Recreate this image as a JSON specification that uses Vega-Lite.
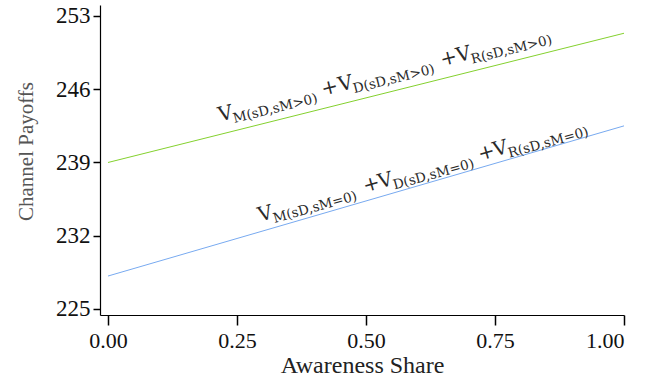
{
  "$schema": "https://vega.github.io/schema/vega-lite/v6.json",
  "width": 524,
  "height": 310,
  "autosize": {"type": "none"},
  "padding": {"left": 100, "top": 5, "right": 23, "bottom": 62},
  "background": "white",
  "config": {
    "view": {"stroke": null},
    "axis": {"grid": false, "domainColor": "#000", "tickColor": "#000", "labelColor": "#111", "labelFont": "Liberation Serif", "titleFont": "Liberation Serif", "titleFontWeight": "normal"}
  },
  "datasets": {
    "lines": [
      {"series": "pos", "share": 0, "payoff": 239.0},
      {"series": "pos", "share": 1, "payoff": 251.35},
      {"series": "zero", "share": 0, "payoff": 228.15},
      {"series": "zero", "share": 1, "payoff": 242.5}
    ],
    "labels": [
      {"series": "pos", "kind": "main", "share": 0.2171, "payoff": 242.918, "txt": "V"},
      {"series": "pos", "kind": "sub", "share": 0.2481, "payoff": 243.300, "txt": "M(sD,sM>0)"},
      {"series": "pos", "kind": "main", "share": 0.4167, "payoff": 245.374, "txt": "+"},
      {"series": "pos", "kind": "main", "share": 0.4496, "payoff": 245.775, "txt": "V"},
      {"series": "pos", "kind": "sub", "share": 0.4806, "payoff": 246.157, "txt": "D(sD,sM>0)"},
      {"series": "pos", "kind": "main", "share": 0.6473, "payoff": 248.203, "txt": "+"},
      {"series": "pos", "kind": "main", "share": 0.6783, "payoff": 248.585, "txt": "V"},
      {"series": "pos", "kind": "sub", "share": 0.7093, "payoff": 248.967, "txt": "R(sD,sM>0)"},
      {"series": "zero", "kind": "main", "share": 0.2946, "payoff": 233.342, "txt": "V"},
      {"series": "zero", "kind": "sub", "share": 0.3256, "payoff": 233.763, "txt": "M(sD,sM=0)"},
      {"series": "zero", "kind": "main", "share": 0.4981, "payoff": 236.123, "txt": "+"},
      {"series": "zero", "kind": "main", "share": 0.5271, "payoff": 236.524, "txt": "V"},
      {"series": "zero", "kind": "sub", "share": 0.5581, "payoff": 236.945, "txt": "D(sD,sM=0)"},
      {"series": "zero", "kind": "main", "share": 0.7209, "payoff": 239.171, "txt": "+"},
      {"series": "zero", "kind": "main", "share": 0.75, "payoff": 239.573, "txt": "V"},
      {"series": "zero", "kind": "sub", "share": 0.7810, "payoff": 239.993, "txt": "R(sD,sM=0)"}
    ]
  },
  "encoding": {
    "x": {
      "field": "share", "type": "quantitative",
      "scale": {"domain": [-0.0155, 1.0], "nice": false, "zero": false},
      "axis": {
        "values": [0, 0.25, 0.5, 0.75, 1], "format": ".2f",
        "tickSize": 10, "tickWidth": 1.5, "domainWidth": 1.2,
        "labelFontSize": 22, "labelPadding": 5,
        "title": "Awareness Share", "titleFontSize": 24, "titleColor": "#222",
        "titleBaseline": "alphabetic", "titleY": 57
      }
    },
    "y": {
      "field": "payoff", "type": "quantitative",
      "scale": {"domain": [224.426, 254.051], "nice": false, "zero": false},
      "axis": {
        "values": [225, 232, 239, 246, 253],
        "tickSize": 7, "tickWidth": 1.5, "domainWidth": 1.2,
        "labelFontSize": 23, "labelPadding": 3,
        "title": "Channel Payoffs", "titleFontSize": 21, "titleColor": "#555",
        "titleX": -74, "titleY": 146, "titleAngle": -90, "titleAlign": "center", "titleBaseline": "middle"
      }
    }
  },
  "layer": [
    {
      "data": {"name": "lines"},
      "mark": {"type": "line", "strokeWidth": 1},
      "encoding": {
        "color": {"field": "series", "type": "nominal", "scale": {"domain": ["pos", "zero"], "range": ["#84d12e", "#78aaf0"]}, "legend": null}
      }
    },
    {
      "data": {"name": "labels"},
      "transform": [{"filter": "datum.series === 'pos' && datum.kind === 'main'"}],
      "mark": {"type": "text", "align": "left", "baseline": "alphabetic", "angle": 346, "font": "DejaVu Serif", "fontSize": 20, "color": "#2a2a2a"},
      "encoding": {"text": {"field": "txt"}}
    },
    {
      "data": {"name": "labels"},
      "transform": [{"filter": "datum.series === 'pos' && datum.kind === 'sub'"}],
      "mark": {"type": "text", "align": "left", "baseline": "alphabetic", "angle": 346, "dx": -3, "dy": 5, "font": "DejaVu Serif", "fontSize": 13.5, "color": "#2a2a2a"},
      "encoding": {"text": {"field": "txt"}}
    },
    {
      "data": {"name": "labels"},
      "transform": [{"filter": "datum.series === 'zero' && datum.kind === 'main'"}],
      "mark": {"type": "text", "align": "left", "baseline": "alphabetic", "angle": 344.5, "font": "DejaVu Serif", "fontSize": 20, "color": "#2a2a2a"},
      "encoding": {"text": {"field": "txt"}}
    },
    {
      "data": {"name": "labels"},
      "transform": [{"filter": "datum.series === 'zero' && datum.kind === 'sub'"}],
      "mark": {"type": "text", "align": "left", "baseline": "alphabetic", "angle": 344.5, "dx": -3, "dy": 5, "font": "DejaVu Serif", "fontSize": 13.5, "color": "#2a2a2a"},
      "encoding": {"text": {"field": "txt"}}
    }
  ]
}
